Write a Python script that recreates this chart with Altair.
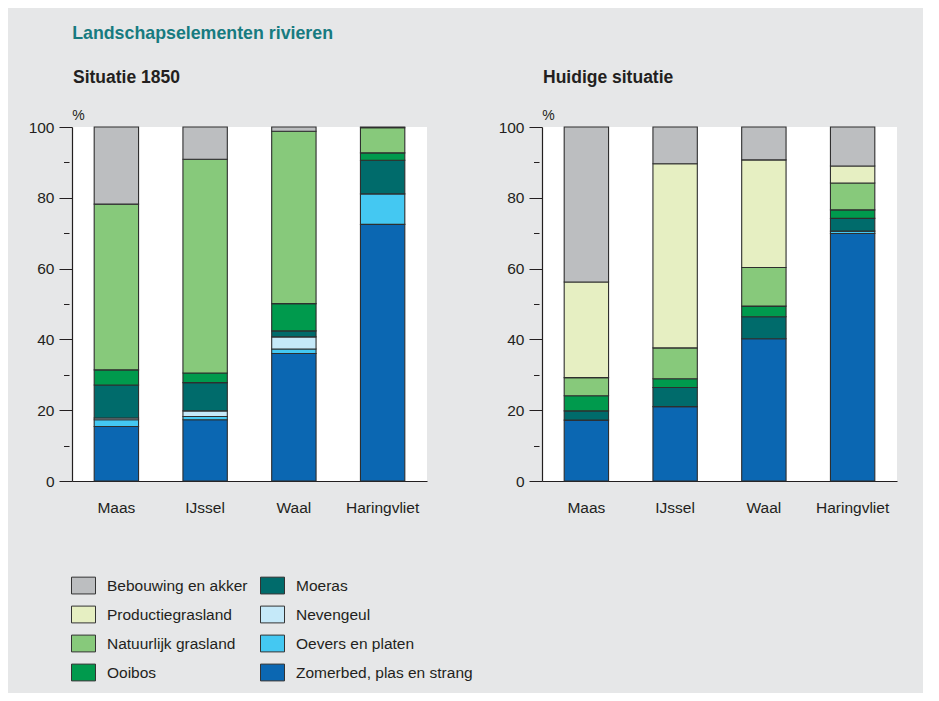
import altair as alt
import pandas as pd

# ---- data -------------------------------------------------------------
rivers = ["Maas", "IJssel", "Waal", "Haringvliet"]

# classes from bottom of the stack to the top
classes = [
    "Zomerbed, plas en strang",
    "Oevers en platen",
    "Nevengeul",
    "Moeras",
    "Ooibos",
    "Natuurlijk grasland",
    "Productiegrasland",
    "Bebouwing en akker",
]
class_colors = ["#0b67b2", "#44c8f2", "#c5e9f9", "#006b6b",
                "#009a4d", "#87c97b", "#e6efc2", "#bcbec0"]

# values (%) per river, in class order (bottom -> top)
maas_1850 = [15.4, 1.9, 0.5, 9.3, 4.3, 46.8, 0.0, 21.8]
ijssel_1850 = [17.3, 0.9, 1.6, 8.0, 2.7, 60.4, 0.0, 9.1]
waal_1850 = [36.0, 1.3, 3.4, 1.7, 7.7, 48.7, 0.0, 1.2]
haringvliet_1850 = [72.5, 8.6, 0.0, 9.5, 2.1, 7.1, 0.0, 0.2]

maas_nu = [17.2, 0.0, 0.0, 2.6, 4.3, 5.1, 27.0, 43.8]
ijssel_nu = [21.0, 0.0, 0.0, 5.4, 2.5, 8.7, 52.0, 10.4]
waal_nu = [40.2, 0.0, 0.0, 6.2, 3.0, 10.9, 30.4, 9.3]
haringvliet_nu = [69.9, 0.7, 0.0, 3.6, 2.4, 7.6, 4.8, 11.0]

# legend order (filled column by column, 2 columns)
legend_order = [
    "Bebouwing en akker", "Productiegrasland",
    "Natuurlijk grasland", "Ooibos",
    "Moeras", "Nevengeul",
    "Oevers en platen", "Zomerbed, plas en strang",
]
legend_colors = [class_colors[classes.index(c)] for c in legend_order]


def build(period, series):
    rows = []
    for river, vals in zip(rivers, series):
        for i, (cls, v) in enumerate(zip(classes, vals)):
            if v > 0:
                rows.append({"periode": period, "rivier": river,
                             "klasse": cls, "waarde": v, "ord": i})
    return pd.DataFrame(rows)


df_1850 = build("Situatie 1850", [maas_1850, ijssel_1850, waal_1850, haringvliet_1850])
df_nu = build("Huidige situatie", [maas_nu, ijssel_nu, waal_nu, haringvliet_nu])

TEXT = "#231f20"
FONT = "Liberation Sans"


def panel(df, title):
    return (
        alt.Chart(df)
        .mark_bar(stroke="#2e2e2e", strokeWidth=1.1)
        .encode(
            x=alt.X(
                "rivier:N",
                sort=rivers,
                scale=alt.Scale(paddingInner=0.5, paddingOuter=0.25),
                axis=alt.Axis(title=None, labelAngle=0, ticks=False,
                              labelPadding=19, labelFontSize=15.5,
                              labelColor=TEXT, domainColor=TEXT,
                              domainWidth=1.2),
            ),
            y=alt.Y(
                "waarde:Q",
                stack="zero",
                scale=alt.Scale(domain=[0, 100], nice=False),
                axis=alt.Axis(
                    values=list(range(0, 101, 10)),
                    labelExpr="datum.value % 20 === 0 ? datum.label : ''",
                    tickSize=13,
                    tickColor=TEXT,
                    tickWidth=1.2,
                    tickDash={"condition": {"test": "datum.value % 20 === 0", "value": [1, 0]},
                              "value": [0, 3, 5.5, 10]},
                    labelPadding=5,
                    labelFontSize=15.5,
                    labelColor=TEXT,
                    domainColor=TEXT,
                    domainWidth=1.2,
                    grid=False,
                    title="%",
                    titleAngle=0,
                    titleX=6,
                    titleY=-8,
                    titleAlign="center",
                    titleBaseline="alphabetic",
                    titleFontWeight="normal",
                    titleFontSize=14,
                    titleColor=TEXT,
                ),
            ),
            color=alt.Color(
                "klasse:N",
                scale=alt.Scale(domain=legend_order, range=legend_colors),
                legend=alt.Legend(
                    title=None,
                    orient="none",
                    legendX=-1,
                    legendY=446,
                    columns=2,
                    symbolType="M-1,-0.7H1V0.7H-1Z",
                    symbolSize=576,
                    symbolStrokeColor="#333333",
                    symbolStrokeWidth=1,
                    symbolOpacity=1,
                    labelFontSize=15.5,
                    labelColor=TEXT,
                    labelOffset=11,
                    labelLimit=400,
                    rowPadding=6,
                    columnPadding=10,
                ),
            ),
            order=alt.Order("ord:Q", sort="ascending"),
        )
        .properties(
            width=355,
            height=354,
            title=alt.TitleParams(title, anchor="start", frame="group",
                                  fontSize=17.5, fontWeight="bold",
                                  color=TEXT, baseline="alphabetic",
                                  offset=8, dx=1),
        )
    )


chart = (
    alt.hconcat(panel(df_1850, "Situatie 1850"), panel(df_nu, "Huidige situatie"), spacing=71)
    .properties(
        title=alt.TitleParams("Landschapselementen rivieren", anchor="start",
                              frame="bounds", fontSize=17.8, fontWeight="bold",
                              color="#177b80", offset=26, dx=44),
        background="#e6e7e8",
        padding={"left": 20, "top": 16, "right": 26, "bottom": 10},
    )
    .configure(font=FONT)
    .configure_view(fill="white", strokeWidth=0)
)

chart.save("out.html", embed_options={"renderer": "svg", "actions": False})
